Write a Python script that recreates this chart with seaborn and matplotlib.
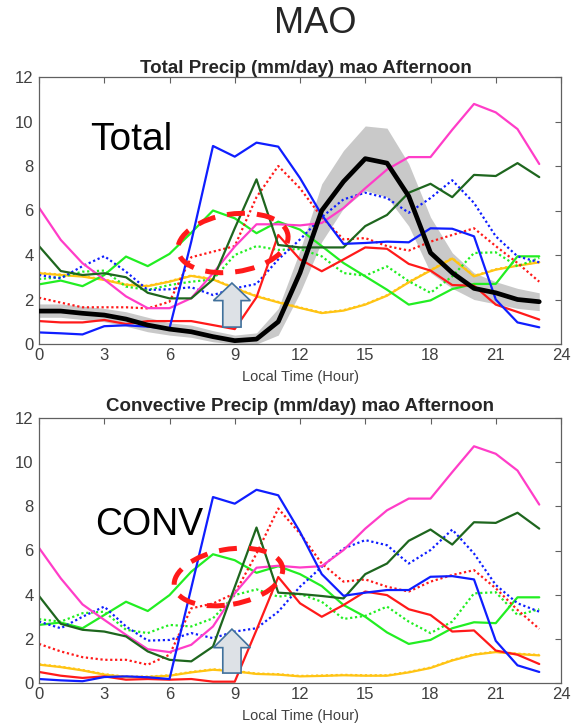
import numpy as np
import pandas as pd
import matplotlib
matplotlib.use("Agg")
import matplotlib.pyplot as plt
import seaborn as sns
from matplotlib.patches import Ellipse, Polygon

sns.set_theme(style="white")
plt.rcParams['font.family'] = ['Liberation Sans', 'DejaVu Sans']

hours = list(range(24))
x_ticks = [0, 3, 6, 9, 12, 15, 18, 21, 24]
y_ticks = [0, 2, 4, 6, 8, 10, 12]

# ---------------- Total precip (top) ----------------
tot_mean = [1.48, 1.48, 1.38, 1.3, 1.12, 0.85, 0.67, 0.55, 0.33, 0.15, 0.22, 1.0,
            3.2, 6.0, 7.3, 8.33, 8.13, 6.64, 4.1, 3.2, 2.5, 2.3, 2.0, 1.9]
tot_upper = [1.8, 1.8, 1.7, 1.6, 1.45, 1.2, 0.95, 0.85, 0.6, 0.4, 0.5, 1.6,
             4.2, 7.2, 8.7, 9.8, 9.7, 8.1, 5.7, 4.1, 3.2, 2.8, 2.5, 2.3]
tot_lower = [1.2, 1.2, 1.1, 1.0, 0.8, 0.55, 0.4, 0.3, 0.1, 0.0, 0.0, 0.4,
             2.3, 4.6, 6.1, 6.9, 6.6, 5.3, 3.2, 2.5, 2.0, 1.8, 1.6, 1.5]
tot_blue = [0.52, 0.48, 0.43, 0.8, 0.84, 0.78, 0.7, 4.6, 8.9, 8.42, 9.05, 8.87,
            7.46, 5.8, 4.5, 4.54, 4.6, 4.57, 5.2, 5.18, 4.84, 2.0, 0.97, 0.75]
tot_blue_dot = [3.1, 2.95, 3.5, 3.95, 3.25, 2.43, 2.46, 2.55, 2.2, 2.5, 2.7, 3.8,
                4.7, 5.7, 6.5, 6.8, 6.56, 5.9, 6.56, 7.36, 6.34, 4.84, 3.94, 3.67]
tot_red = [1.03, 0.97, 0.97, 1.08, 0.9, 1.03, 1.03, 1.03, 0.85, 0.67, 2.1, 4.9,
           3.8, 3.27, 3.8, 4.34, 4.28, 3.6, 3.3, 2.65, 2.62, 1.77, 1.44, 1.1]
tot_red_dot = [2.08, 1.86, 1.65, 1.65, 1.65, 1.6, 1.9, 3.9, 4.15, 4.4, 6.6, 8.0,
               7.0, 5.7, 4.7, 4.76, 4.4, 4.2, 4.6, 4.9, 5.2, 4.4, 3.64, 2.8]
tot_lime = [2.68, 2.85, 2.6, 3.1, 3.93, 3.5, 4.05, 5.0, 6.0, 5.65, 4.98, 5.5,
            5.14, 4.4, 3.64, 3.04, 2.44, 1.77, 1.96, 2.47, 2.7, 2.7, 3.94, 3.94]
tot_lime_dot = [2.92, 3.0, 3.25, 3.3, 2.58, 2.43, 2.65, 2.8, 2.9, 4.0, 4.4, 4.23,
                4.27, 3.94, 3.19, 3.07, 3.49, 2.82, 2.3, 3.04, 4.09, 4.12, 3.49, 3.87]
tot_dkgreen = [4.4, 3.28, 3.1, 3.18, 3.0, 2.3, 2.05, 2.05, 2.9, 5.2, 7.4, 4.45,
               4.34, 4.34, 4.34, 5.3, 5.8, 6.8, 7.2, 6.6, 7.6, 7.55, 8.13, 7.5]
tot_magenta = [6.13, 4.68, 3.63, 2.9, 2.14, 1.61, 1.61, 2.06, 3.18, 4.38, 5.38, 5.38,
               5.33, 5.44, 6.11, 7.0, 7.84, 8.4, 8.4, 9.63, 10.79, 10.41, 9.66, 8.09]
tot_yellow = [3.18, 3.1, 3.03, 2.88, 2.66, 2.6, 2.8, 3.06, 2.9, 2.5, 2.14, 1.87,
              1.62, 1.39, 1.5, 1.77, 2.17, 2.77, 3.3, 3.84, 3.04, 3.34, 3.52, 3.67]
tot_yellow_dot = [3.2, 3.12, 3.05, 2.9, 2.68, 2.62, 2.82, 3.08, 2.92, 2.52, 2.16, 1.89,
                  1.64, 1.41, 1.52, 1.79, 2.19, 2.79, 3.32, 3.86, 3.06, 3.36, 3.54, 3.69]

# ---------------- Convective precip (bottom) ----------------
cnv_blue = [0.18, 0.12, 0.08, 0.27, 0.3, 0.26, 0.18, 4.3, 8.42, 8.12, 8.75, 8.5,
            6.84, 4.93, 3.95, 4.09, 4.21, 4.21, 4.81, 4.84, 4.69, 1.91, 0.8, 0.5]
cnv_blue_dot = [2.78, 2.48, 3.0, 3.46, 2.56, 1.92, 1.95, 2.26, 2.03, 2.33, 2.48, 3.23,
                4.36, 5.26, 6.09, 6.47, 6.24, 5.41, 6.02, 6.95, 5.86, 4.44, 3.61, 3.23]
cnv_red = [0.5, 0.33, 0.23, 0.3, 0.15, 0.18, 0.15, 0.18, 0.06, 0.06, 2.4, 4.8,
           3.61, 3.0, 3.53, 4.14, 3.98, 3.34, 3.08, 2.33, 2.38, 1.47, 1.28, 0.86]
cnv_red_dot = [1.77, 1.43, 1.17, 1.05, 1.05, 0.83, 1.28, 3.38, 3.6, 4.06, 5.86, 7.9,
               6.77, 5.41, 4.59, 4.69, 4.36, 4.14, 4.59, 4.89, 5.11, 4.29, 3.31, 2.45]
cnv_lime = [2.63, 2.74, 2.48, 3.08, 3.68, 3.26, 3.98, 5.04, 5.83, 5.56, 4.99, 5.29,
            4.93, 4.39, 3.53, 3.0, 2.29, 1.77, 1.95, 2.48, 2.75, 2.71, 3.88, 3.88]
cnv_lime_dot = [2.89, 2.78, 3.16, 3.23, 2.41, 2.26, 2.63, 2.56, 2.93, 3.98, 4.24, 3.91,
                4.03, 3.68, 2.9, 3.04, 3.46, 2.78, 2.26, 2.78, 4.06, 4.11, 3.08, 3.34]
cnv_dkgreen = [3.94, 2.68, 2.41, 2.33, 2.11, 1.43, 1.05, 0.98, 1.65, 4.35, 7.04, 4.09,
               4.03, 3.94, 3.83, 4.93, 5.41, 6.44, 6.95, 6.27, 7.28, 7.25, 7.71, 6.99]
cnv_magenta = [6.12, 4.74, 3.56, 2.86, 2.18, 1.53, 1.4, 1.73, 2.56, 4.06, 5.22, 5.31,
               5.23, 5.29, 6.02, 6.99, 7.82, 8.35, 8.35, 9.55, 10.72, 10.38, 9.62, 8.08]
cnv_yellow = [0.83, 0.72, 0.57, 0.38, 0.27, 0.27, 0.33, 0.48, 0.6, 0.53, 0.41, 0.38,
              0.3, 0.32, 0.35, 0.33, 0.33, 0.48, 0.68, 1.02, 1.28, 1.4, 1.31, 1.25]
cnv_yellow_dot = [0.85, 0.74, 0.59, 0.4, 0.29, 0.29, 0.35, 0.5, 0.62, 0.55, 0.43, 0.4,
                  0.32, 0.34, 0.37, 0.35, 0.35, 0.5, 0.7, 1.04, 1.3, 1.42, 1.33, 1.27]

BLUE = '#0f1eff'
RED = '#ff1a1a'
LIME = '#22ee22'
DKGREEN = '#1e661e'
MAGENTA = '#ff3dc8'
YELLOW = '#ffc414'
DOT = (0, (1, 1.2))

fig = plt.figure(figsize=(5.71, 7.24), dpi=100)
ax1 = fig.add_axes([39/571, 1-344/724, 522/571, 267/724])
ax2 = fig.add_axes([39/571, 1-683/724, 522/571, 265/724])


def draw_series(ax, series):
    for vals, col, ls in series:
        sns.lineplot(x=hours, y=vals, color=col, linestyle=ls, lw=1.6, ax=ax)


draw_series(ax1, [
    (tot_yellow, YELLOW, '-'), (tot_yellow_dot, YELLOW, DOT),
    (tot_lime_dot, LIME, DOT), (tot_lime, LIME, '-'),
    (tot_red_dot, RED, DOT), (tot_blue_dot, BLUE, DOT),
    (tot_red, RED, '-'), (tot_magenta, MAGENTA, '-'),
    (tot_dkgreen, DKGREEN, '-'), (tot_blue, BLUE, '-'),
])
ax1.fill_between(hours, tot_lower, tot_upper, color='#c9c9c9', lw=0, zorder=1.5)
sns.lineplot(x=hours, y=tot_mean, color='black', lw=3.4, ax=ax1, zorder=3)

draw_series(ax2, [
    (cnv_yellow, YELLOW, '-'), (cnv_yellow_dot, YELLOW, DOT),
    (cnv_lime_dot, LIME, DOT), (cnv_lime, LIME, '-'),
    (cnv_red_dot, RED, DOT), (cnv_blue_dot, BLUE, DOT),
    (cnv_red, RED, '-'), (cnv_magenta, MAGENTA, '-'),
    (cnv_dkgreen, DKGREEN, '-'), (cnv_blue, BLUE, '-'),
])

for ax in (ax1, ax2):
    ax.set_xlim(0, 24)
    ax.set_ylim(0, 12)
    ax.set_xticks(x_ticks)
    ax.set_yticks(y_ticks)
    ax.tick_params(direction='in', length=4, width=0.8, top=True, right=True,
                   labelsize=12, labelcolor='#404040', color='#606060')
    ax.tick_params(axis='x', pad=3)
    ax.tick_params(axis='y', pad=4)
    for s in ax.spines.values():
        s.set_color('#606060')
        s.set_linewidth(0.9)
    ax.set_xlabel('Local Time (Hour)', fontsize=10.5, color='#404040', labelpad=5)
    ax.set_ylabel('')
    ax.grid(False)

# annotations: dashed ellipses and up arrows
ax1.add_patch(Ellipse((8.92, 4.54), 5.1, 2.6, angle=8, fill=False, ec=RED, lw=3.6,
                      linestyle=(0, (3.6, 2.4)), zorder=5))
ax2.add_patch(Ellipse((8.71, 4.8), 5.05, 2.5, angle=10, fill=False, ec=RED, lw=3.6,
                      linestyle=(0, (3.6, 2.4)), zorder=5))


def up_arrow(ax, xc, tip, base, bottom):
    hw, sw = 0.85, 0.42
    pts = [(xc, tip), (xc + hw, base), (xc + sw, base), (xc + sw, bottom),
           (xc - sw, bottom), (xc - sw, base), (xc - hw, base)]
    ax.add_patch(Polygon(pts, closed=True, fc='#dde1e6', ec='#41719c', lw=1.2, zorder=6))


up_arrow(ax1, 8.87, 2.74, 1.95, 0.76)
up_arrow(ax2, 8.87, 2.44, 1.6, 0.45)

ax1.text(2.35, 8.72, 'Total', fontsize=28, ha='left', va='baseline', color='black')
ax2.text(2.57, 6.7, 'CONV', fontsize=27, ha='left', va='baseline', color='black')

fig.text(315/571, 1-33/724, 'MAO', fontsize=26, ha='center', va='baseline')
fig.text(306/571, 1-73/724, 'Total Precip (mm/day) mao Afternoon', fontsize=13.5,
         fontweight='bold', ha='center', va='baseline')
fig.text(300/571, 1-411/724, 'Convective Precip (mm/day) mao Afternoon', fontsize=13.5,
         fontweight='bold', ha='center', va='baseline')

fig.savefig('out.png', dpi=100)
